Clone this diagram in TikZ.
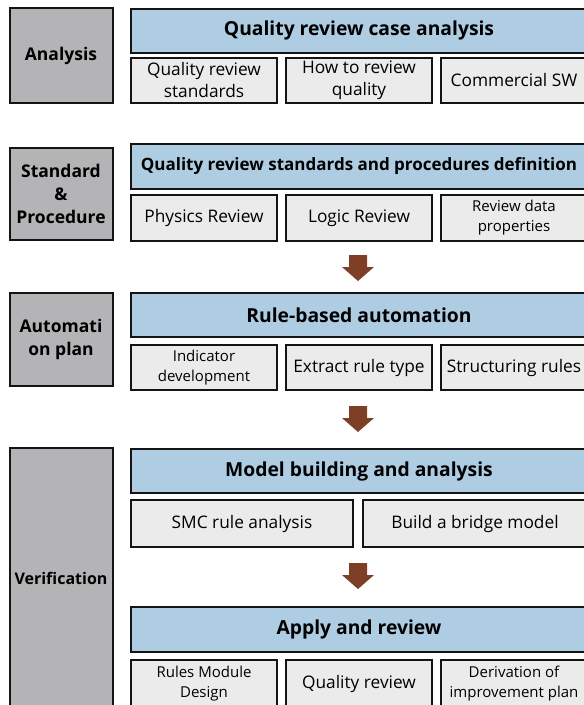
\documentclass[tikz,border=0pt]{standalone}
\usepackage{fontspec}
\setmainfont{Open Sans}
\definecolor{stagegrey}{RGB}{180,180,182}
\definecolor{headblue}{RGB}{174,205,227}
\definecolor{itemgrey}{RGB}{235,235,235}
\definecolor{edgeblack}{RGB}{20,20,20}
\definecolor{flowbrown}{RGB}{126,63,38}
\tikzset{
  box/.style={draw=edgeblack, line width=2pt, inner sep=0pt, align=center, text=black},
  stage/.style={box, fill=stagegrey, minimum width=103pt, font=\bfseries\fontsize{17.5}{23}\selectfont},
  head/.style={box, fill=headblue, minimum width=456pt, font=\bfseries\fontsize{19.3}{22}\selectfont},
  item/.style={box, fill=itemgrey, minimum width=146pt, font=\fontsize{17.3}{22}\selectfont},
  smallitem/.style={item, font=\fontsize{15}{20}\selectfont},
  pics/downarrow/.style={code={
    \fill[flowbrown] (-9,0) -- (9,0) -- (9,12) -- (16,12) -- (0,26) -- (-16,12) -- (-9,12) -- cycle;
  }}
}
\begin{document}
\begin{tikzpicture}[x=1pt, y=-1pt]
\useasboundingbox (0,0) rectangle (584,705);
\clip (0,0) rectangle (584,705);

% stage labels on the left
\node[stage, minimum height=95pt] (anl) at (61,55.5) {Analysis};
\node[stage, minimum height=92pt] (std) at (61,194) {Standard\\\&\\Procedure};
\node[stage, minimum height=93pt] (aut) at (61,339.5) {Automati\\on plan};
\node[stage, minimum height=260pt, font=\bfseries\fontsize{16}{20}\selectfont] (ver) at (61,578) {Verification};

% stage 1: analysis
\node[head, minimum height=44pt] (h1) at (359,30.5) {Quality review case analysis};
\node[item, minimum height=45pt] (s11) at (204,80.5) {Quality review\\standards};
\node[item, minimum height=45pt] (s12) at (359,80.5) {How to review\\quality};
\node[item, minimum height=45pt] (s13) at (514,80.5) {Commercial SW};

% stage 2: standards and procedures
\node[head, minimum height=45pt, font=\bfseries\fontsize{17}{20}\selectfont] (h2) at (359,166.5) {Quality review standards and procedures definition};
\node[item, minimum height=46pt] (s21) at (204,218) {Physics Review};
\node[item, minimum height=46pt] (s22) at (359,218) {Logic Review};
\node[smallitem, minimum height=46pt] (s23) at (514,218) {Review data\\properties};

% stage 3: automation
\node[head, minimum height=44pt] (h3) at (359,315) {Rule-based automation};
\node[smallitem, minimum height=45pt] (s31) at (204,367.5) {Indicator\\development};
\node[item, minimum height=45pt] (s32) at (359,367.5) {Extract rule type};
\node[item, minimum height=45pt] (s33) at (514,367.5) {Structuring rules};

% stage 4: verification
\node[head, minimum height=44pt] (h4) at (359,471) {Model building and analysis};
\node[item, minimum height=47pt, minimum width=222pt] (s41) at (242,523.5) {SMC rule analysis};
\node[item, minimum height=47pt, minimum width=224pt] (s42) at (475,523.5) {Build a bridge model};

\node[head, minimum height=45pt] (h5) at (359,629.5) {Apply and review};
\node[smallitem, minimum height=48pt] (s51) at (204,684) {Rules Module\\Design};
\node[item, minimum height=48pt] (s52) at (359,684) {Quality review};
\node[smallitem, minimum height=48pt] (s53) at (514,684) {Derivation of\\improvement plan};

% flow arrows between stages
\coordinate (a1) at (358,255);
\coordinate (a2) at (358,406);
\coordinate (a3) at (358,563);
\pic at (a1) {downarrow};
\pic at (a2) {downarrow};
\pic at (a3) {downarrow};
\end{tikzpicture}
\end{document}
